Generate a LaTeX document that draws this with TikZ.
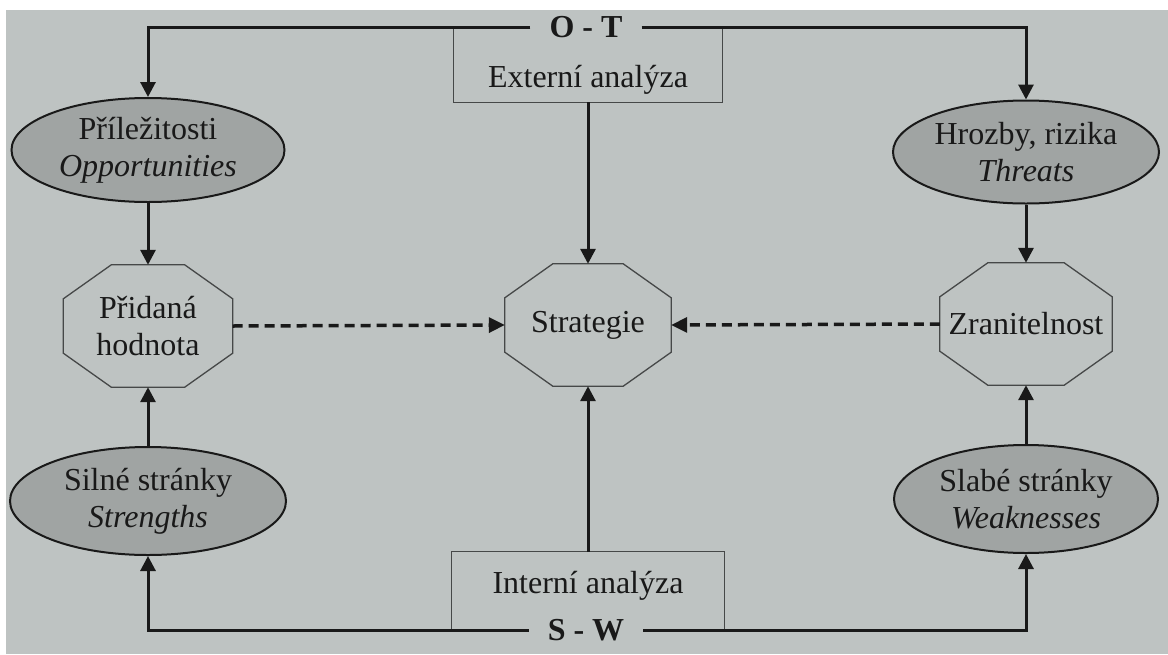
\documentclass[tikz,border=0pt]{standalone}
\usepackage{fontspec}
\setmainfont{Liberation Serif}
\usetikzlibrary{arrows.meta,shapes.geometric,calc}
\definecolor{paper}{RGB}{190,195,194}
\definecolor{ellfill}{RGB}{160,164,163}
\definecolor{ink}{RGB}{25,25,25}
\definecolor{thin}{RGB}{70,72,72}
\newcommand\octframe[1]{\draw[octline] ($(#1.north west)+(48,0)$) -- ($(#1.north east)+(-48,0)$) -- ($(#1.north east)+(0,34)$) -- ($(#1.south east)+(0,-34)$) -- ($(#1.south east)+(-48,0)$) -- ($(#1.south west)+(48,0)$) -- ($(#1.south west)+(0,-34)$) -- ($(#1.north west)+(0,34)$) -- cycle;}
\begin{document}
\begin{tikzpicture}[x=1pt,y=-1pt,
  every node/.style={font=\fontsize{32}{37}\selectfont, text=ink},
  conn/.style={draw=ink, line width=3pt, -{Triangle[length=15pt,width=15pt]}},
  dashconn/.style={draw=ink, line width=3.5pt, dash pattern=on 10pt off 6pt, -{Triangle[length=16pt,width=15pt]}},
  oval/.style={ellipse, draw=ink, line width=2pt, fill=ellfill, inner sep=0pt, align=center},
  octbox/.style={rectangle, inner sep=0pt, minimum width=170pt, minimum height=122pt, align=center},
  octline/.style={draw=thin, line width=1.3pt},
  boxline/.style={draw=thin, line width=1.3pt},
  sigla/.style={font=\fontsize{32}{37}\selectfont\bfseries, inner xsep=19pt, inner ysep=2pt}
]
\useasboundingbox (0,0) rectangle (1168,654);
\fill[white] (0,0) rectangle (1168,654);
\fill[paper] (6,10) rectangle (1168,654);

% top: external analysis
\node[sigla] (OT) at (586,27.5) {O - T};
\node[rectangle, inner sep=0pt, minimum width=268pt, minimum height=75pt, text height=45pt, text depth=0pt] (ext) at (588,64.5) {Externí analýza};
\draw[boxline] (ext.north west) -- (ext.south west) -- (ext.south east) -- (ext.north east);

% ellipses top
\node[oval, minimum width=273pt, minimum height=104pt] (opp) at (148,150) {Příležitosti\\\textit{Opportunities}};
\node[oval, minimum width=266pt, minimum height=103pt] (thr) at (1026,152) {Hrozby, rizika\\\textit{Threats}};

% octagons
\node[octbox, minimum width=169pt] (prid) at (148,326) {Přidaná\\hodnota};
\node[octbox, minimum width=166pt] (strat) at (588,325) {Strategie};
\node[octbox, minimum width=172pt] (zran) at (1026,324) {Zranitelnost};
\octframe{prid}
\octframe{strat}
\octframe{zran}

% ellipses bottom
\node[oval, minimum width=276pt, minimum height=108pt] (sil) at (148,501) {Silné stránky\\\textit{Strengths}};
\node[oval, minimum width=264pt, minimum height=108pt] (sla) at (1026,499) {Slabé stránky\\\textit{Weaknesses}};

% bottom: internal analysis
\node[rectangle, inner sep=0pt, minimum width=273pt, minimum height=78pt, text height=22pt, text depth=18pt] (int) at (588,591) {Interní analýza};
\draw[boxline] (int.south west) -- (int.north west) -- (int.north east) -- (int.south east);
\node[sigla] (SW) at (586,630) {S - W};

% connectors
\draw[conn] (OT.west) -| (opp.north);
\draw[conn] (OT.east) -| (thr.north);
\draw[conn] (ext.south) -- (strat.north);
\draw[conn] (opp.south) -- (prid.north);
\draw[conn] (thr.south) -- (zran.north);
\draw[conn] (sil.north) -- (prid.south);
\draw[conn] (sla.north) -- (zran.south);
\draw[conn] (int.north) -- (strat.south);
\draw[conn] (SW.west) -| (sil.south);
\draw[conn] (SW.east) -| (sla.south);
\draw[dashconn] (prid.east) -- (strat.west);
\draw[dashconn] (zran.west) -- (strat.east);
\end{tikzpicture}
\end{document}
